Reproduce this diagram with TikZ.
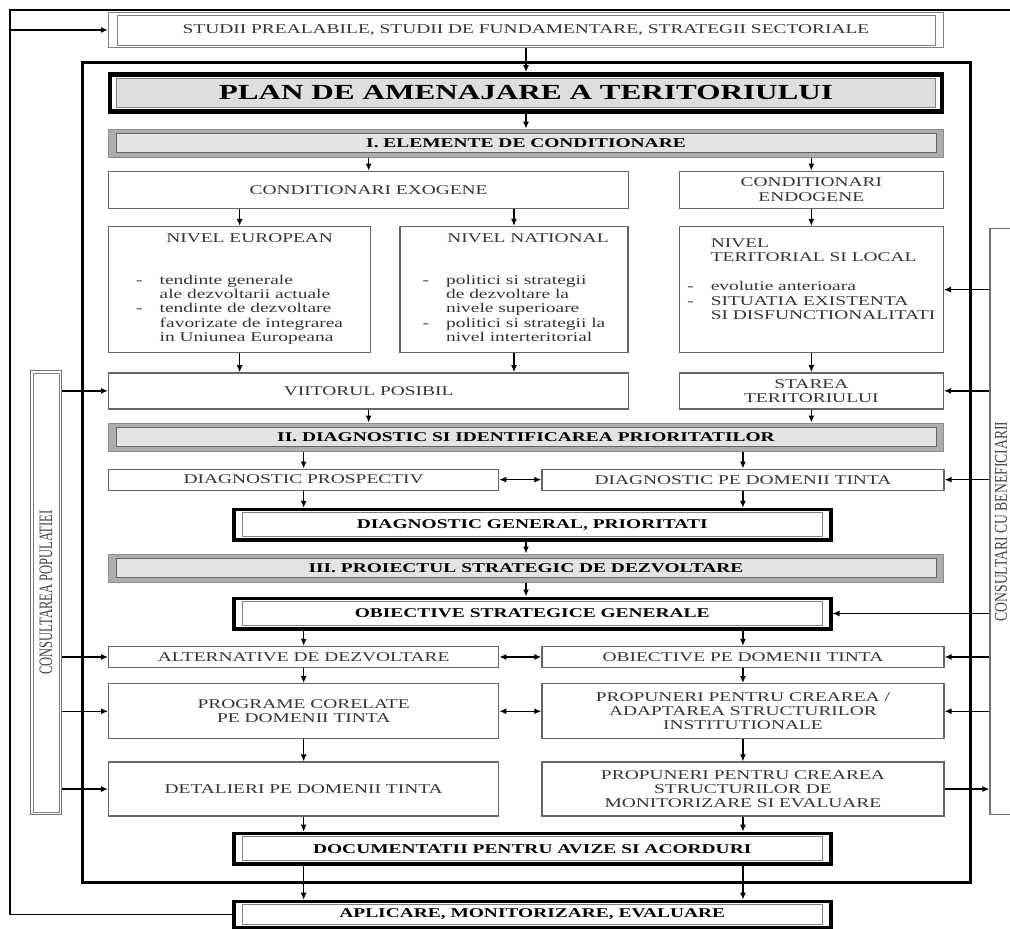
\documentclass[tikz,border=0pt]{standalone}
\usepackage{graphicx}
\usepackage{fontspec}
\setmainfont{Liberation Serif}[FakeStretch=1.45]
\newfontfamily\vertfont{Liberation Serif}[FakeStretch=0.66]
\newfontfamily\vertfontb{Liberation Serif}[FakeStretch=0.76]
\usetikzlibrary{positioning, arrows.meta, backgrounds}

\begin{document}
\begin{tikzpicture}[
    x=1pt, y=-1pt,
    font=\fontsize{13.4}{14.3}\selectfont,
    box/.style={rectangle, draw=black!60, line width=1.3pt, align=center, inner sep=2pt, text=black!80},
    header/.style={rectangle, draw=black!45, line width=1pt, minimum width=835pt, minimum height=28pt, font=\fontsize{13.4}{14.3}\selectfont\bfseries},
    keybox/.style={rectangle, draw=black, line width=3.5pt, minimum width=597pt, minimum height=30.5pt, font=\fontsize{13.4}{14.3}\selectfont\bfseries},
    side/.style={rectangle, draw=black!55, line width=1.2pt, text=black!75},
    inframe/.style={draw=black!50, line width=0.8pt},
    arrow/.style={-{Latex[length=7pt, width=6pt]}, line width=1.3pt},
    dblarrow/.style={{Latex[length=7pt, width=6pt]}-{Latex[length=7pt, width=6pt]}, line width=1.3pt},
    frame/.style={draw=black, line width=3pt}
  ]
    \useasboundingbox (0,0) rectangle (1010,929);
    \clip (0,0) rectangle (1010,929);

    % Nodes
    \node[box, draw=black!50, line width=1.2pt, minimum width=835pt, minimum height=35pt] (studii) at (526,30) {STUDII PREALABILE, STUDII DE FUNDAMENTARE, STRATEGII SECTORIALE};
    \node[keybox, line width=4.5pt, minimum width=832pt, minimum height=37pt, below=24pt of studii, font=\fontsize{21.5}{24}\selectfont\bfseries] (plan) {PLAN DE AMENAJARE A TERITORIULUI};
    \node[header, below=15pt of plan] (secI) {I. ELEMENTE DE CONDITIONARE};

    \node[box, minimum width=520pt, minimum height=37pt, below right=13pt and 0pt of secI.south west] (exo) {CONDITIONARI EXOGENE};
    \node[box, minimum width=264pt, minimum height=37pt, below left=13pt and 0pt of secI.south east] (endo) {CONDITIONARI\\ENDOGENE};

    \node[box, minimum width=262pt, minimum height=126pt, below right=17pt and 0pt of exo.south west] (euro)
      {\hspace*{20pt}NIVEL EUROPEAN\\[28pt]
       \begin{tabular}[t]{@{}l@{\hspace{17pt}}l@{}}
         - & tendinte generale\\
           & ale dezvoltarii actuale\\
         - & tendinte de dezvoltare\\
           & favorizate de integrarea\\
           & in Uniunea Europeana
       \end{tabular}};
    \node[box, minimum width=228pt, minimum height=126pt, right=28pt of euro] (nat)
      {\hspace*{28pt}NIVEL NATIONAL\\[28pt]
       \begin{tabular}[t]{@{}l@{\hspace{17pt}}l@{}}
         - & politici si strategii\\
           & de dezvoltare la\\
           & nivele superioare\\
         - & politici si strategii la\\
           & nivel interteritorial
       \end{tabular}};
    \node[box, minimum width=264pt, minimum height=126pt, below=17pt of endo] (terr)
      {\begin{tabular}{@{}l@{\hspace{17pt}}l@{}}
           & NIVEL\\
           & TERITORIAL SI LOCAL\\[15pt]
         - & evolutie anterioara\\
         - & SITUATIA EXISTENTA\\
           & SI DISFUNCTIONALITATI\\[18pt]
       \end{tabular}};

    \node[box, minimum width=520pt, minimum height=36pt, below right=19pt and 0pt of euro.south west] (viit) {VIITORUL POSIBIL};
    \node[box, minimum width=264pt, minimum height=36pt, below=19pt of terr] (star) {STAREA\\TERITORIULUI};

    \node[header, below right=13pt and 0pt of viit.south west] (secII) {II. DIAGNOSTIC SI IDENTIFICAREA PRIORITATILOR};
    \node[box, minimum width=390pt, minimum height=21pt, below right=17pt and 0pt of secII.south west] (dpros) {DIAGNOSTIC PROSPECTIV};
    \node[box, minimum width=402pt, minimum height=21pt, right=42pt of dpros] (ddom) {DIAGNOSTIC PE DOMENII TINTA};
    \node[keybox, below right=17pt and 124pt of dpros.south west] (dgen) {DIAGNOSTIC GENERAL, PRIORITATI};

    \node[header, below=102pt of secII] (secIII) {III. PROIECTUL STRATEGIC DE DEZVOLTARE};
    \node[keybox, below right=14pt and 124pt of secIII.south west] (obgen) {OBIECTIVE STRATEGICE GENERALE};

    \node[box, minimum width=390pt, minimum height=21pt, below=155pt of dpros] (alt) {ALTERNATIVE DE DEZVOLTARE};
    \node[box, minimum width=402pt, minimum height=21pt, right=42pt of alt] (obdom) {OBIECTIVE PE DOMENII TINTA};
    \node[box, minimum width=390pt, minimum height=55pt, below=15pt of alt] (prog) {PROGRAME CORELATE\\PE DOMENII TINTA};
    \node[box, minimum width=402pt, minimum height=55pt, right=42pt of prog] (prop1) {PROPUNERI PENTRU CREAREA /\\ADAPTAREA STRUCTURILOR\\INSTITUTIONALE};
    \node[box, minimum width=390pt, minimum height=54pt, below=22pt of prog] (det) {DETALIERI PE DOMENII TINTA};
    \node[box, minimum width=402pt, minimum height=54pt, right=42pt of det] (prop2) {PROPUNERI PENTRU CREAREA\\STRUCTURILOR DE\\MONITORIZARE SI EVALUARE};

    \node[keybox, below right=15pt and 124pt of det.south west] (docs) {DOCUMENTATII PENTRU AVIZE SI ACORDURI};
    \node[keybox, minimum height=26pt, below=34pt of docs] (aplic) {APLICARE, MONITORIZARE, EVALUARE};

    \node[side, minimum width=31pt, minimum height=444pt] (consulp) at (46,592.5)
      {\rotatebox{90}{\vertfont\fontsize{19}{19}\selectfont CONSULTAREA POPULATIEI}};
    \node[side, minimum width=30pt, minimum height=586pt] (consulb) at (1005,521.5) {};
    \node[text=black!75, inner sep=0pt] (consulbt) at ([xshift=11.5pt]consulb.west)
      {\rotatebox{90}{\vertfontb\fontsize{18}{18}\selectfont CONSULTARI CU BENEFICIARII}};

    \coordinate (fbtl) at (10,10);
    \coordinate (fbtr) at (1010,10);

    % Frames
    \draw[frame] (82,62) rectangle (970,882);
    \foreach \n/\dx/\dy in {studii/9/3, dgen/10/5, obgen/10/5, docs/10/5, aplic/10/5, consulp/3/3}
      \draw[inframe] ([shift={(\dx,\dy)}]\n.north west) rectangle ([shift={(-\dx,-\dy)}]\n.south east);
    \begin{scope}[on background layer]
      \foreach \n in {secI, secII, secIII}{
        \fill[black!32] (\n.north west) rectangle (\n.south east);
        \draw[inframe, black!60, fill=black!11] ([shift={(8,5)}]\n.north west) rectangle ([shift={(-8,-5)}]\n.south east);
      }
      \draw[inframe, fill=black!13] ([shift={(9,6)}]plan.north west) rectangle ([shift={(-9,-6)}]plan.south east);
    \end{scope}

    % Arrows
    \draw[arrow] (studii) -- (plan);
    \draw[arrow] (plan) -- (secI);
    \draw[arrow] (exo |- secI.south) -- (exo);
    \draw[arrow] (endo |- secI.south) -- (endo);
    \draw[arrow] (euro |- exo.south) -- (euro);
    \draw[arrow] (nat |- exo.south) -- (nat);
    \draw[arrow] (endo) -- (terr);
    \draw[arrow] (euro) -- (euro |- viit.north);
    \draw[arrow] (nat) -- (nat |- viit.north);
    \draw[arrow] (terr) -- (star);
    \draw[arrow] (viit) -- (viit |- secII.north);
    \draw[arrow] (star) -- (star |- secII.north);
    \draw[arrow] (dpros |- secII.south) -- (dpros);
    \draw[arrow] (ddom |- secII.south) -- (ddom);
    \draw[dblarrow] (dpros) -- (ddom);
    \draw[arrow] (dpros) -- (dpros |- dgen.north);
    \draw[arrow] (ddom) -- (ddom |- dgen.north);
    \draw[arrow] (dgen.south -| secIII) -- (secIII);
    \draw[arrow] (secIII) -- (secIII |- obgen.north);
    \draw[arrow] (alt |- obgen.south) -- (alt);
    \draw[arrow] (obdom |- obgen.south) -- (obdom);
    \draw[dblarrow] (alt) -- (obdom);
    \draw[arrow] (alt) -- (prog);
    \draw[arrow] (obdom) -- (prop1);
    \draw[dblarrow] (prog) -- (prop1);
    \draw[arrow] (prog) -- (det);
    \draw[arrow] (prop1) -- (prop2);
    \draw[arrow] (det) -- (det |- docs.north);
    \draw[arrow] (prop2) -- (prop2 |- docs.north);
    \draw[arrow] (det |- docs.south) -- (det |- aplic.north);
    \draw[arrow] (prop2 |- docs.south) -- (prop2 |- aplic.north);

    % Consultations
    \foreach \t in {viit, alt, prog, det}
      \draw[arrow] (consulp.east |- \t) -- (\t);
    \foreach \t in {terr, star, ddom, obgen, obdom, prop1}
      \draw[arrow] (consulb.west |- \t) -- (\t);
    \draw[arrow] (prop2) -- (prop2 -| consulb.west);

    % Feedback loop
    \draw[line width=1.3pt] (aplic.west) -| (fbtl) -- (fbtr);
    \draw[arrow] (fbtl |- studii) -- (studii);
  \end{tikzpicture}
\end{document}
